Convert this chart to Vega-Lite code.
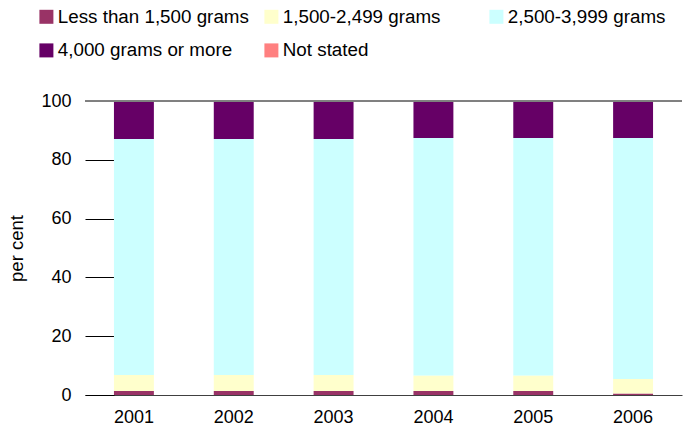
{
  "$schema": "https://vega.github.io/schema/vega-lite/v6.json",
  "autosize": "none",
  "width": 597,
  "height": 294,
  "padding": {"left": 85, "top": 101, "right": 3, "bottom": 39},
  "config": {
    "font": "Liberation Sans",
    "view": {"stroke": null},
    "axis": {"labelFont": "Liberation Sans", "titleFont": "Liberation Sans", "labelColor": "#000000", "titleColor": "#000000"}
  },
  "data": {
    "values": [
      {"year": "2001", "category": "Less than 1,500 grams", "value": 1.4},
      {"year": "2001", "category": "1,500-2,499 grams", "value": 5.4},
      {"year": "2001", "category": "2,500-3,999 grams", "value": 80.3},
      {"year": "2001", "category": "4,000 grams or more", "value": 12.9},
      {"year": "2001", "category": "Not stated", "value": 0.0},
      {"year": "2002", "category": "Less than 1,500 grams", "value": 1.4},
      {"year": "2002", "category": "1,500-2,499 grams", "value": 5.4},
      {"year": "2002", "category": "2,500-3,999 grams", "value": 80.3},
      {"year": "2002", "category": "4,000 grams or more", "value": 12.9},
      {"year": "2002", "category": "Not stated", "value": 0.0},
      {"year": "2003", "category": "Less than 1,500 grams", "value": 1.4},
      {"year": "2003", "category": "1,500-2,499 grams", "value": 5.4},
      {"year": "2003", "category": "2,500-3,999 grams", "value": 80.3},
      {"year": "2003", "category": "4,000 grams or more", "value": 12.9},
      {"year": "2003", "category": "Not stated", "value": 0.0},
      {"year": "2004", "category": "Less than 1,500 grams", "value": 1.4},
      {"year": "2004", "category": "1,500-2,499 grams", "value": 5.2},
      {"year": "2004", "category": "2,500-3,999 grams", "value": 80.8},
      {"year": "2004", "category": "4,000 grams or more", "value": 12.6},
      {"year": "2004", "category": "Not stated", "value": 0.0},
      {"year": "2005", "category": "Less than 1,500 grams", "value": 1.4},
      {"year": "2005", "category": "1,500-2,499 grams", "value": 5.2},
      {"year": "2005", "category": "2,500-3,999 grams", "value": 80.8},
      {"year": "2005", "category": "4,000 grams or more", "value": 12.6},
      {"year": "2005", "category": "Not stated", "value": 0.0},
      {"year": "2006", "category": "Less than 1,500 grams", "value": 0.5},
      {"year": "2006", "category": "1,500-2,499 grams", "value": 4.9},
      {"year": "2006", "category": "2,500-3,999 grams", "value": 82.0},
      {"year": "2006", "category": "4,000 grams or more", "value": 12.6},
      {"year": "2006", "category": "Not stated", "value": 0.0}
    ]
  },
  "layer": [
    {
      "transform": [
        {"calculate": "indexof(['Less than 1,500 grams', '1,500-2,499 grams', '2,500-3,999 grams', '4,000 grams or more', 'Not stated'], datum.category)", "as": "stackRank"}
      ],
      "mark": {"type": "bar"},
      "encoding": {
        "x": {
          "field": "year", "type": "nominal",
          "scale": {"paddingInner": 0.6, "paddingOuter": 0.29},
          "axis": {"title": null, "labelAngle": 0, "ticks": false, "labelFontSize": 18, "labelPadding": 13, "domainColor": "#404040", "domainWidth": 1}
        },
        "y": {
          "field": "value", "type": "quantitative", "stack": "zero",
          "scale": {"domain": [0, 100], "nice": false},
          "axis": {"title": "per cent", "values": [0, 20, 40, 60, 80, 100], "grid": false, "domain": false, "offset": -29, "tickSize": 29, "tickColor": "#000000", "labelFontSize": 18, "labelPadding": 14, "titleFontSize": 18.5, "titleFontWeight": "normal", "titlePadding": 14}
        },
        "color": {
          "field": "category", "type": "nominal",
          "scale": {
            "domain": ["Less than 1,500 grams", "1,500-2,499 grams", "2,500-3,999 grams", "4,000 grams or more", "Not stated"],
            "range": ["#993366", "#FFFFCC", "#CCFFFF", "#660066", "#FF8080"]
          },
          "legend": {
            "title": null, "orient": "none", "legendX": -48, "legendY": -94, "direction": "horizontal",
            "columns": 3, "gridAlign": "all", "symbolType": "square", "symbolSize": 196, "symbolStrokeWidth": 0,
            "labelFontSize": 18.8, "labelFont": "Liberation Sans", "labelColor": "#000000", "labelOffset": 2,
            "columnPadding": 13, "rowPadding": 14, "padding": 0, "labelLimit": 300
          }
        },
        "order": {"field": "stackRank", "type": "quantitative", "sort": "ascending"}
      }
    },
    {
      "mark": {"type": "rule", "color": "#808080", "strokeWidth": 1},
      "encoding": {"y": {"datum": 100, "type": "quantitative"}}
    }
  ]
}
